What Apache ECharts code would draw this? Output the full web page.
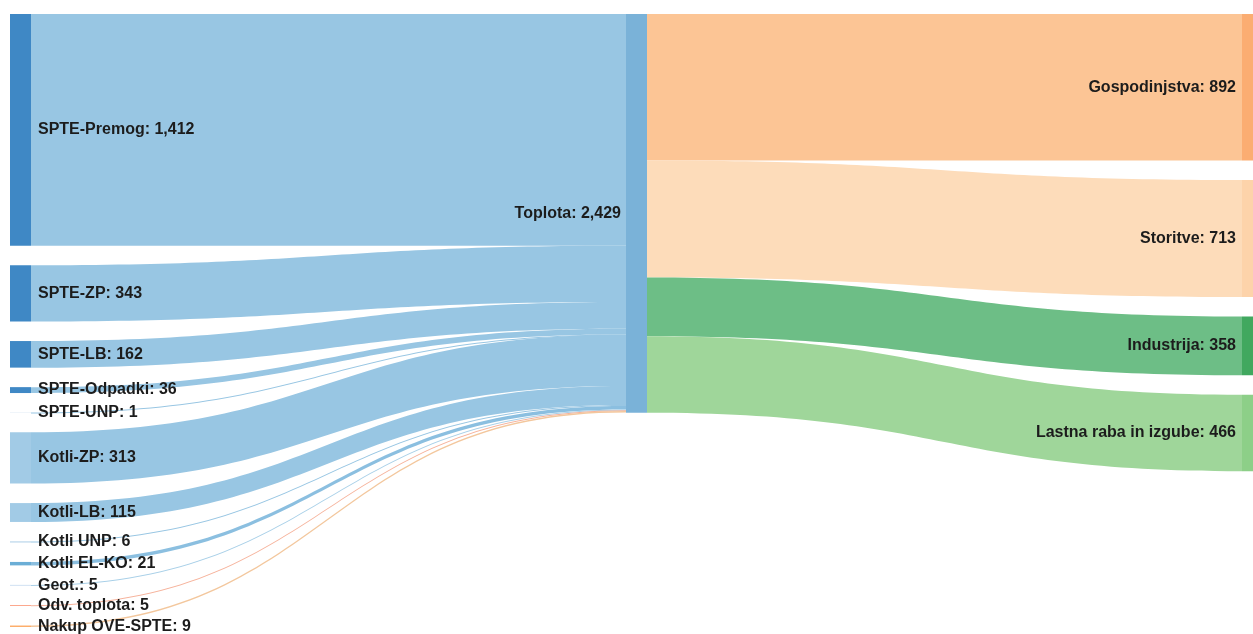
<!DOCTYPE html>
<html>
<head>
<meta charset="utf-8">
<script src="https://cdn.jsdelivr.net/npm/echarts@6/dist/echarts.min.js"></script>
<style>
html,body{margin:0;padding:0;background:#fff;}
#chart{width:1253px;height:634px;}
</style>
</head>
<body>
<div id="chart"></div>
<script>
// ---- data ----
const sourceNames = ['SPTE-Premog','SPTE-ZP','SPTE-LB','SPTE-Odpadki','SPTE-UNP','Kotli-ZP','Kotli-LB','Kotli UNP','Kotli EL-KO','Geot.','Odv. toplota','Nakup OVE-SPTE'];
const sourceValues = [1412, 343, 162, 36, 1, 313, 115, 6, 21, 5, 5, 9];
const hubName = 'Toplota';
const hubValue = 2429;
const targetNames = ['Gospodinjstva','Storitve','Industrija','Lastna raba in izgube'];
const targetValues = [892, 713, 358, 466];

// ---- styles ----
const sourceColors = ['#3f88c5','#3f88c5','#3f88c5','#3f88c5','#9fc0dc','#a2cbe6','#a2cbe6','#a9cde6','#6baed6','#c6dbef','#fc9272','#fdae6b'];
const hubColor = '#7ab2d8';
const targetColors = ['#fbad72','#fdd3aa','#41a85f','#8dcf88'];
const sourceLinkColors = ['#98c6e3','#98c6e3','#98c6e3','#98c6e3','#98c6e3','#98c6e3','#98c6e3','#98c6e3','#8bbfe0','#a9d0e8','#f6b39c','#f3c79d'];
const targetLinkColors = ['#fcc595','#fddcba','#6dbe86','#9fd69a'];

const valueMap = {};
sourceNames.forEach((n,i)=>valueMap[n]=sourceValues[i]);
targetNames.forEach((n,i)=>valueMap[n]=targetValues[i]);
valueMap[hubName] = hubValue;

const fmt = v => v.toLocaleString('en-US');
const labelBase = {
  show: true,
  color: '#1c1c1c',
  fontFamily: '"Liberation Sans", Arial, sans-serif',
  fontWeight: 'bold',
  fontSize: 16,
  formatter: p => p.name + ': ' + fmt(valueMap[p.name])
};

const nodes = [];
sourceNames.forEach((n,i)=>nodes.push({name:n, itemStyle:{color:sourceColors[i]}, label:Object.assign({}, labelBase, {position:'right', distance:7})}));
nodes.push({name:hubName, value:hubValue, itemStyle:{color:hubColor}, label:Object.assign({}, labelBase, {position:'left', distance:5})});
targetNames.forEach((n,i)=>nodes.push({name:n, itemStyle:{color:targetColors[i]}, label:Object.assign({}, labelBase, {position:'left', distance:6})}));

const links = [];
sourceNames.forEach((n,i)=>links.push({source:n, target:hubName, value:sourceValues[i], lineStyle:{color:sourceLinkColors[i]}}));
targetNames.forEach((n,i)=>links.push({source:hubName, target:n, value:targetValues[i], lineStyle:{color:targetLinkColors[i]}}));

const chart = echarts.init(document.getElementById('chart'), null, {renderer:'canvas'});
chart.setOption({
  animation: false,
  backgroundColor: '#ffffff',
  series: [{
    type: 'sankey',
    left: 10,
    right: -10,
    top: 14,
    bottom: 7,
    nodeWidth: 21,
    nodeGap: 19.5,
    nodeAlign: 'justify',
    layoutIterations: 0,
    draggable: false,
    emphasis: {disabled: true},
    itemStyle: {borderWidth: 0},
    lineStyle: {opacity: 1, curveness: 0.5},
    data: nodes,
    links: links
  }]
});
</script>
</body>
</html>
